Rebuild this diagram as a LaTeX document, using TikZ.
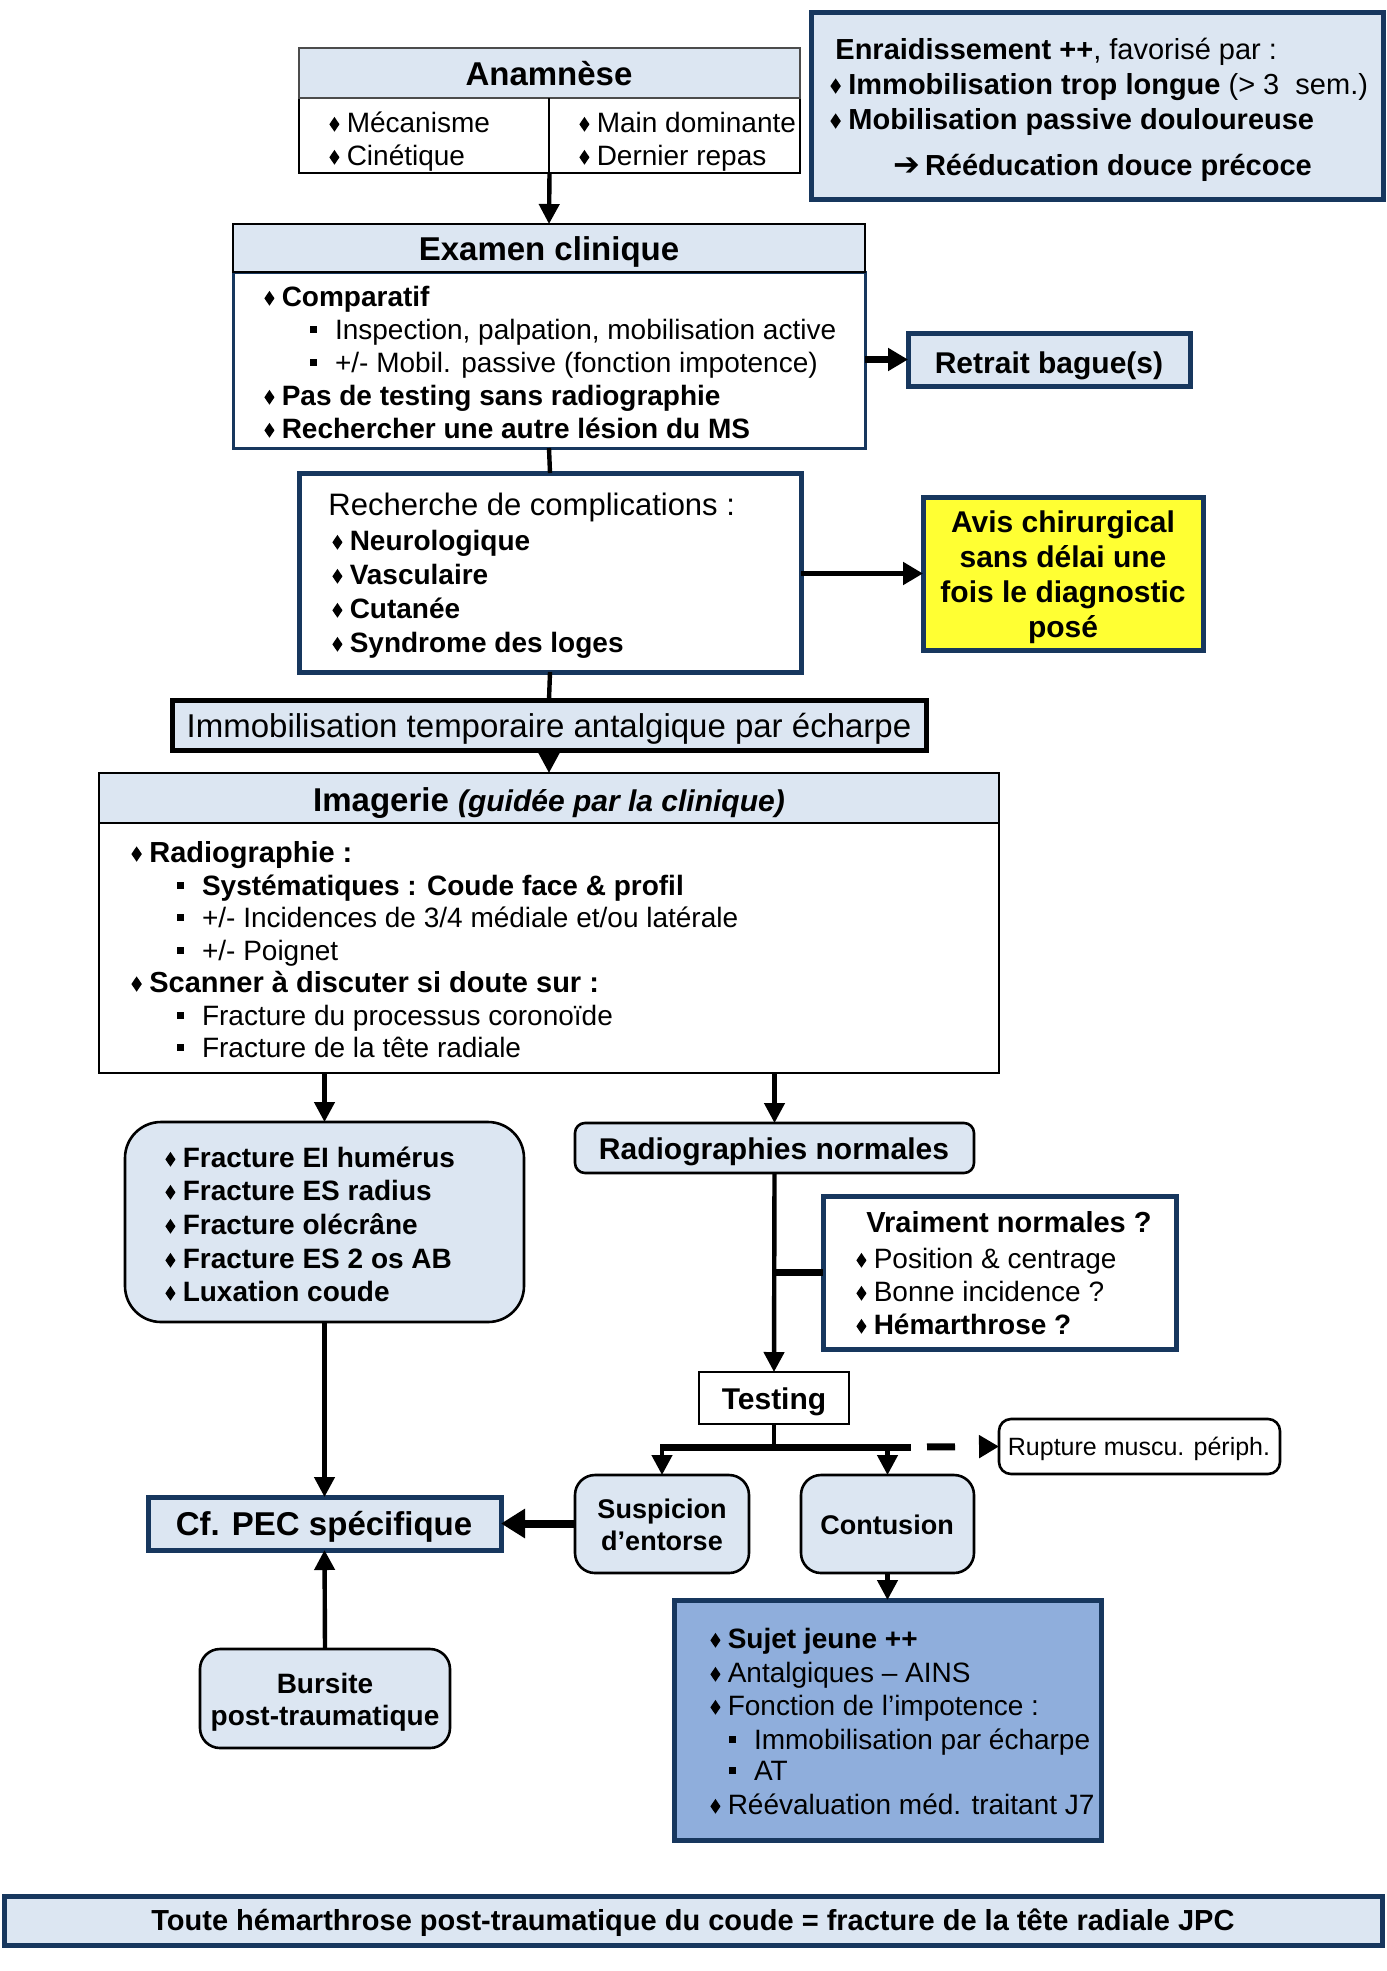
\documentclass[tikz,border=0pt]{standalone}
\usepackage{fontspec}
\usepackage{graphicx}
\setmainfont{Liberation Sans}
\newfontfamily\djv{DejaVu Sans}
\usetikzlibrary{arrows.meta,fit}
\definecolor{lb}{HTML}{DCE6F2}
\definecolor{navy}{HTML}{17375E}
\definecolor{mb}{HTML}{8FAEDC}
\definecolor{yel}{HTML}{FFFF33}
\newcommand\dm{\raisebox{0.01em}{\resizebox{0.36em}{0.53em}{\rotatebox{45}{\rule{1em}{1em}}}}\hspace{0.26em}}
\newcommand\sqb{\raisebox{0.23em}{\rule{0.25em}{0.25em}}\hspace{0.63em}}
\newcommand\fsz[1]{\fontsize{#1}{#1}\selectfont}
\begin{document}
\begin{tikzpicture}[x=0.5pt,y=-0.5pt,
  box/.style={inner sep=0pt, outer sep=0pt},
  nb/.style={box, draw=navy, line width=2.5pt},
  bb/.style={box, draw=black, line width=1.3pt},
  t/.style={inner sep=0pt, anchor=base west},
  c/.style={inner sep=0pt, anchor=base},
  conn/.style={line width=2.2pt, -{Triangle[length=10pt,width=10pt]}},
  ln/.style={line width=2.2pt},
  thk/.style={line width=3.5pt}]
\useasboundingbox (0,0) rectangle (1387,1971);
\fill[white] (0,0) rectangle (1387,1971);

% ---- Enraidissement
\node[fit={(811,12) (1383,199)}, nb, fill=lb] (enr) {};
\node[t, font=\fsz{14.5pt}] (enr1) at (835,59) {\textbf{Enraidissement ++}, favorisé par :};
\node[t, font=\fsz{14.5pt}] (enr2) at (830,94) {\dm\textbf{Immobilisation trop longue} (> 3~ sem.)};
\node[t, font=\fsz{14.5pt}] (enr3) at (830,129) {\dm\textbf{Mobilisation passive douloureuse}};
\node[t, font=\fsz{14.5pt}] (enr4) at (893,175) {{\djv\bfseries\fsz{16pt}➔}\,\textbf{Rééducation douce précoce}};

% ---- Anamnese
\node[fit={(299,98) (800,173)}, bb, fill=white] (anb) {};
\node[fit={(299,48) (800,98)}, box, draw=black!70, line width=0.8pt, fill=lb] (anh) {};
\draw[line width=1.3pt] (549,98) -- (549,173);
\node[c, font=\fsz{16.5pt}\bfseries] (anT) at (549,85) {Anamnèse};
\node[t, font=\fsz{14pt}] (an1) at (329,132) {\dm Mécanisme};
\node[t, font=\fsz{14pt}] (an2) at (329,165) {\dm Cinétique};
\node[t, font=\fsz{14pt}] (an3) at (579,132) {\dm Main dominante};
\node[t, font=\fsz{14pt}] (an4) at (579,165) {\dm Dernier repas};

% ---- Examen clinique
\node[fit={(233,272) (865,448)}, box, draw=navy, line width=1.5pt, fill=white] (exb) {};
\node[fit={(233,224) (865,272)}, bb, fill=lb] (exh) {};
\node[c, font=\fsz{16.5pt}\bfseries] (exT) at (549,260) {Examen clinique};
\node[t, font=\fsz{14pt}] (ex1) at (264,306) {\dm\textbf{Comparatif}};
\node[t, font=\fsz{14pt}] (ex2) at (310,339) {\sqb Inspection, palpation, mobilisation active};
\node[t, font=\fsz{14pt}] (ex3) at (310,372) {\sqb +/- Mobil. passive (fonction impotence)};
\node[t, font=\fsz{14pt}] (ex4) at (264,405) {\dm\textbf{Pas de testing sans radiographie}};
\node[t, font=\fsz{14pt}] (ex5) at (264,438) {\dm\textbf{Rechercher une autre lésion du MS}};

% ---- Retrait
\node[fit={(908,333) (1190,386)}, nb, fill=lb] (ret) {};
\node[c, font=\fsz{15pt}\bfseries] (retT) at (1049,373) {Retrait bague(s)};

% ---- Recherche complications
\node[fit={(299,473) (801,672)}, nb, fill=white] (rec) {};
\node[t, font=\fsz{15.5pt}] (rec0) at (328,515) {Recherche de complications :};
\node[t, font=\fsz{14pt}\bfseries] (rec1) at (332,550) {\dm Neurologique};
\node[t, font=\fsz{14pt}\bfseries] (rec2) at (332,584) {\dm Vasculaire};
\node[t, font=\fsz{14pt}\bfseries] (rec3) at (332,618) {\dm Cutanée};
\node[t, font=\fsz{14pt}\bfseries] (rec4) at (332,652) {\dm Syndrome des loges};

% ---- Avis
\node[fit={(923,497) (1203,650)}, nb, fill=yel] (avis) {};
\node[c, font=\fsz{15pt}\bfseries] (av1) at (1063,532) {Avis chirurgical};
\node[c, font=\fsz{15pt}\bfseries] (av2) at (1063,567) {sans délai une};
\node[c, font=\fsz{15pt}\bfseries] (av3) at (1063,602) {fois le diagnostic};
\node[c, font=\fsz{15pt}\bfseries] (av4) at (1063,637) {posé};

% ---- Immobilisation
\node[fit={(172,700) (926,750)}, box, draw=black, line width=2.5pt, fill=lb] (imm) {};
\node[c, font=\fsz{16.5pt}] (immT) at (549,737) {Immobilisation temporaire antalgique par écharpe};

% ---- Imagerie
\node[fit={(99,823) (999,1073)}, bb, fill=white] (imgb) {};
\node[fit={(99,773) (999,823)}, bb, fill=lb] (imgh) {};
\node[c, font=\fsz{16.5pt}\bfseries] (imgT) at (549,811) {Imagerie {\fsz{15pt}\itshape (guidée par la clinique)}};
\node[t, font=\fsz{14.5pt}] (im1) at (131,862) {\dm\textbf{Radiographie :}};
\node[t, font=\fsz{14pt}] (im2) at (177,895) {\sqb\textbf{Systématiques : Coude face \& profil}};
\node[t, font=\fsz{14pt}] (im3) at (177,927) {\sqb +/- Incidences de 3/4 médiale et/ou latérale};
\node[t, font=\fsz{14pt}] (im4) at (177,960) {\sqb +/- Poignet};
\node[t, font=\fsz{14.5pt}] (im5) at (131,992) {\dm\textbf{Scanner à discuter si doute sur :}};
\node[t, font=\fsz{14pt}] (im6) at (177,1025) {\sqb Fracture du processus coronoïde};
\node[t, font=\fsz{14pt}] (im7) at (177,1057) {\sqb Fracture de la tête radiale};

% ---- Fractures
\node[fit={(125,1122) (524,1322)}, bb, fill=lb, rounded corners=18pt] (frac) {};
\node[t, font=\fsz{14pt}\bfseries] (fr1) at (165,1167) {\dm Fracture EI humérus};
\node[t, font=\fsz{14pt}\bfseries] (fr2) at (165,1200) {\dm Fracture ES radius};
\node[t, font=\fsz{14pt}\bfseries] (fr3) at (165,1234) {\dm Fracture olécrâne};
\node[t, font=\fsz{14pt}\bfseries] (fr4) at (165,1268) {\dm Fracture ES 2 os AB};
\node[t, font=\fsz{14pt}\bfseries] (fr5) at (165,1301) {\dm Luxation coude};

% ---- Radiographies normales
\node[fit={(575,1123) (974,1173)}, bb, fill=lb, rounded corners=5pt] (rad) {};
\node[c, font=\fsz{15pt}\bfseries] (radT) at (774,1159) {Radiographies normales};

% ---- Vraiment normales
\node[fit={(823,1196) (1176,1349)}, nb, fill=white] (vra) {};
\node[t, font=\fsz{14.5pt}\bfseries] (vr0) at (866,1232) {Vraiment normales ?};
\node[t, font=\fsz{14pt}] (vr1) at (856,1268) {\dm Position \& centrage};
\node[t, font=\fsz{14pt}] (vr2) at (856,1301) {\dm Bonne incidence ?};
\node[t, font=\fsz{14pt}] (vr3) at (856,1334) {\dm\textbf{Hémarthrose ?}};

% ---- Testing
\node[fit={(699,1372) (849,1424)}, bb, fill=white] (tes) {};
\node[c, font=\fsz{15pt}\bfseries] (tesT) at (774,1409) {Testing};

% ---- Rupture
\node[fit={(999,1419) (1280,1474)}, bb, fill=white, rounded corners=6pt] (rup) {};
\node[c, font=\fsz{12.5pt}] (rupT) at (1139,1455) {Rupture muscu. périph.};

% ---- Suspicion / Contusion
\node[fit={(575,1475) (749,1573)}, bb, fill=lb, rounded corners=10pt] (sus) {};
\node[c, font=\fsz{13.5pt}\bfseries] (su1) at (662,1518) {Suspicion};
\node[c, font=\fsz{13.5pt}\bfseries] (su2) at (662,1550) {d’entorse};
\node[fit={(801,1475) (974,1573)}, bb, fill=lb, rounded corners=10pt] (con) {};
\node[c, font=\fsz{13.5pt}\bfseries] (coT) at (887,1534) {Contusion};

% ---- PEC
\node[fit={(148,1497) (501,1550)}, nb, fill=lb] (pec) {};
\node[c, font=\fsz{16.5pt}\bfseries] (pecT) at (324,1535) {Cf. PEC spécifique};

% ---- Bursite
\node[fit={(200,1649) (450,1748)}, bb, fill=lb, rounded corners=10pt] (bur) {};
\node[c, font=\fsz{14pt}\bfseries] (bu1) at (325,1693) {Bursite};
\node[c, font=\fsz{14pt}\bfseries] (bu2) at (325,1725) {post-traumatique};

% ---- Blue box
\node[fit={(674,1600) (1101,1840)}, nb, fill=mb] (blu) {};
\node[t, font=\fsz{14pt}] (bl1) at (710,1648) {\dm\textbf{Sujet jeune ++}};
\node[t, font=\fsz{14pt}] (bl2) at (710,1682) {\dm Antalgiques – AINS};
\node[t, font=\fsz{14pt}] (bl3) at (710,1715) {\dm Fonction de l’impotence :};
\node[t, font=\fsz{14pt}] (bl4) at (729,1749) {\sqb Immobilisation par écharpe};
\node[t, font=\fsz{14pt}] (bl5) at (729,1780) {\sqb AT};
\node[t, font=\fsz{14pt}] (bl6) at (710,1814) {\dm Réévaluation méd. traitant J7};

% ---- Banner
\node[fit={(4,1896) (1382,1945)}, nb, fill=lb] (ban) {};
\node[c, font=\fsz{14.5pt}\bfseries] (banT) at (693,1930) {Toute hémarthrose post-traumatique du coude = fracture de la tête radiale JPC};

% ---- Connectors
\draw[conn] (anb.south) -- (exh.north);
\draw[thk, -{Triangle[length=10pt,width=11pt]}] (exb.east |- ret.west) -- (ret.west);
\draw[ln] (exb.south) -- (rec.north);
\draw[line width=2.6pt, -{Triangle[length=10pt,width=11pt]}] (rec.east |- avis.west) -- (avis.west);
\draw[ln] (rec.south) -- (imm.north);
\draw[conn] (imm.south) -- (imgh.north);
\draw[conn] (imgb.south -| frac.north) -- (frac.north);
\draw[conn] (imgb.south -| rad.north) -- (rad.north);
\draw[conn] (rad.south) -- (tes.north);
\draw[thk] (rad.south |- vra.west) -- (vra.west);
\coordinate (bl) at (662,1447);
\coordinate (br) at (911,1447);
\draw[ln] (tes.south) -- (tes.south |- bl);
\draw[thk] ([xshift=-1pt]bl) -- (br);
\draw[conn] (bl) -- (sus.north);
\draw[conn] (con.north |- bl) -- (con.north);
\draw[thk, dash pattern=on 0pt off 8pt on 14pt off 20pt, -{Triangle[length=10pt,width=11pt]}] (br) -- (rup.west);
\draw[line width=4pt, -{Triangle[length=12pt,width=14pt]}] (sus.west |- pec.east) -- (pec.east);
\draw[conn] (frac.south) -- (pec.north);
\draw[conn] (bur.north) -- (pec.south);
\draw[conn] (con.south) -- (blu.north);
\end{tikzpicture}
\end{document}
